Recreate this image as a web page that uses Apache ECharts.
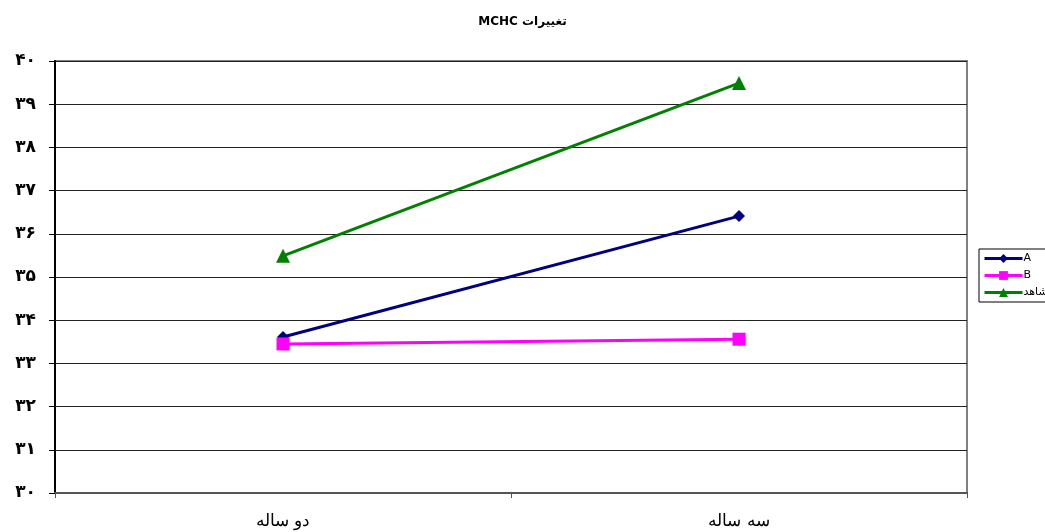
<!DOCTYPE html>
<html>
<head>
<meta charset="utf-8">
<script src="https://cdn.jsdelivr.net/npm/echarts@6/dist/echarts.min.js"></script>
<style>
html,body{margin:0;padding:0;background:#fff;}
#chart{width:1045px;height:532px;}
</style>
</head>
<body>
<div id="chart"></div>
<script>
var categories = ['دو ساله', 'سه ساله'];
var seriesA = [33.61, 36.41];
var seriesB = [33.45, 33.56];
var seriesControl = [35.49, 39.49];
var seriesNames = ['A', 'B', 'شاهد'];

// persian digits for the value axis
function toFa(n){
    var d = '۰۱۲۳۴۵۶۷۸۹';
    return String(n).replace(/[0-9]/g, function (c) { return d[+c]; });
}

var chart = echarts.init(document.getElementById('chart'));
var option = {
    animation: false,
    color: ['#000080', '#ff00ff', '#008000'],
    title: {
        text: 'MCHC تغییرات',
        left: 'center',
        top: 11,
        textStyle: {
            fontFamily: 'DejaVu Sans',
            fontSize: 12,
            fontWeight: 'bold',
            color: '#000'
        }
    },
    legend: {
        orient: 'vertical',
        left: 979,
        top: 249,
        padding: [4, 4, 4, 4],
        itemGap: 6,
        itemWidth: 38,
        itemHeight: 11,
        borderColor: '#000',
        borderWidth: 1,
        data: seriesNames,
        lineStyle: { width: 3 },
        textStyle: {
            fontFamily: 'DejaVu Sans',
            fontSize: 11,
            color: '#000',
            padding: [0, 0, 0, -4]
        }
    },
    grid: {
        left: 55,
        right: 78,
        top: 61,
        bottom: 39,
        show: true,
        borderColor: '#808080',
        borderWidth: 2
    },
    xAxis: {
        type: 'category',
        data: categories,
        boundaryGap: true,
        axisLine: { lineStyle: { color: '#555', width: 2 } },
        axisTick: { show: true, length: 5, lineStyle: { color: '#555' } },
        axisLabel: {
            margin: 20,
            fontFamily: 'DejaVu Serif',
            fontSize: 17,
            color: '#000'
        }
    },
    yAxis: {
        type: 'value',
        min: 30,
        max: 40,
        interval: 1,
        axisLine: { show: true, lineStyle: { color: '#000', width: 2 } },
        axisTick: { show: true, length: 6, lineStyle: { color: '#000' } },
        axisLabel: {
            margin: 19,
            fontFamily: 'DejaVu Sans',
            fontSize: 17,
            fontWeight: 'bold',
            color: '#000',
            formatter: function (v) { return toFa(v); }
        },
        splitLine: { lineStyle: { color: '#222', width: 1 } }
    },
    series: [
        {
            name: seriesNames[0],
            type: 'line',
            data: seriesA,
            symbol: 'diamond',
            symbolSize: 12,
            lineStyle: { width: 3 }
        },
        {
            name: seriesNames[1],
            type: 'line',
            data: seriesB,
            symbol: 'rect',
            symbolSize: 13,
            lineStyle: { width: 3 }
        },
        {
            name: seriesNames[2],
            type: 'line',
            data: seriesControl,
            symbol: 'triangle',
            symbolSize: 14,
            lineStyle: { width: 3 }
        }
    ]
};
chart.setOption(option);
</script>
</body>
</html>
